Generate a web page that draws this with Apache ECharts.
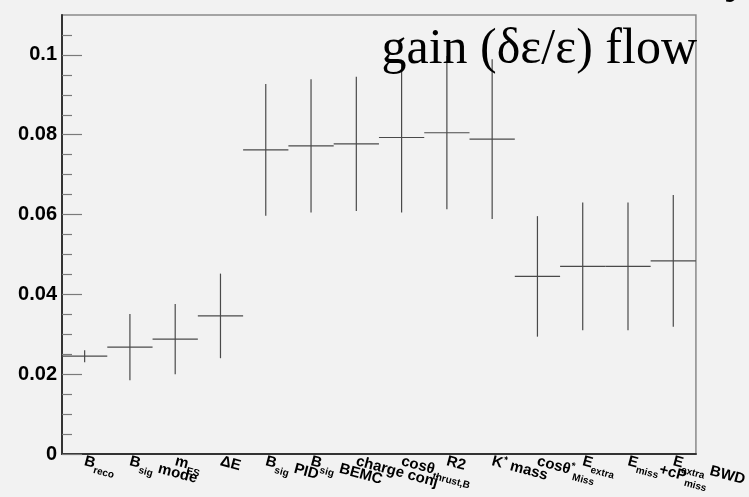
<!DOCTYPE html>
<html>
<head>
<meta charset="utf-8">
<script src="https://cdn.jsdelivr.net/npm/echarts@6/dist/echarts.min.js"></script>
<style>
html,body{margin:0;padding:0;background:#f2f2f2;}
#c{width:749px;height:497px;}
</style>
</head>
<body>
<div id="c"></div>
<script>
var categories = [
  'B{s|reco}', 'B{s|sig} mode', 'm{s|ES}', 'ΔE', 'B{s|sig} PID', 'B{s|sig} BEMC',
  'charge conj', 'cosθ{s|thrust,B}', 'R2', 'K{sup|*} mass', 'cosθ{sup|*}{s|Miss}',
  'E{s|extra}', 'E{s|miss}+cP{s|miss}', 'E{s|extra} BWD'
];
var values = [0.0245, 0.0268, 0.0288, 0.0346, 0.0762, 0.0772, 0.0777, 0.0793, 0.0805, 0.0789, 0.0445, 0.0470, 0.0470, 0.0484];
var errors = [0.0015, 0.0083, 0.0088, 0.0106, 0.0165, 0.0167, 0.0168, 0.0188, 0.0192, 0.0200, 0.0151, 0.0160, 0.0160, 0.0165];
var majorTicks = [0, 0.02, 0.04, 0.06, 0.08, 0.1];
var minorTicks = [0.005, 0.01, 0.015, 0.025, 0.03, 0.035, 0.045, 0.05, 0.055, 0.065, 0.07, 0.075, 0.085, 0.09, 0.095, 0.105];
var yMax = 0.11;

var chart = echarts.init(document.getElementById('c'));
var seriesData = values.map(function (v, i) { return [i, v, errors[i]]; });

chart.setOption({
  backgroundColor: '#f2f2f2',
  animation: false,
  title: {
    text: 'gain (δε/ε) flow',
    right: 47,
    top: 20,
    textStyle: { fontFamily: 'Liberation Serif', fontSize: 50, fontWeight: 'normal', color: '#000' }
  },
  graphic: [{
    type: 'text',
    x: 725,
    y: -47,
    style: { text: 'y', font: '50px "Liberation Serif"', fill: '#000', verticalAlign: 'top' }
  }],
  grid: { left: 62, right: 39, top: 15, bottom: 43, show: true, borderColor: '#8a8a8a', borderWidth: 1.5, backgroundColor: 'transparent' },
  xAxis: {
    type: 'category',
    data: categories,
    boundaryGap: true,
    axisLine: { lineStyle: { color: '#333', width: 2 } },
    axisTick: { inside: true, length: 12, lineStyle: { color: '#7a7a7a', width: 1.2 } },
    axisLabel: {
      interval: 0,
      rotate: -15,
      margin: 7,
      fontFamily: 'Liberation Sans',
      fontWeight: 'bold',
      fontSize: 15,
      color: '#000',
      rich: {
        s: { fontFamily: 'Liberation Sans', fontWeight: 'bold', fontSize: 10, padding: [13, 0, 0, 0], color: '#000' },
        sup: { fontFamily: 'Liberation Sans', fontWeight: 'bold', fontSize: 10, padding: [0, 0, 8, 0], color: '#000' }
      }
    },
    splitLine: { show: false }
  },
  yAxis: [{
    type: 'value',
    min: 0,
    max: yMax,
    axisLine: { show: true, lineStyle: { color: '#333', width: 2 } },
    axisTick: { show: true, inside: true, length: 20, customValues: majorTicks, lineStyle: { color: '#7a7a7a', width: 1.2 } },
    axisLabel: {
      customValues: majorTicks,
      margin: 5,
      fontFamily: 'Liberation Sans',
      fontWeight: 'bold',
      fontSize: 20,
      color: '#000',
      formatter: function (v) { return String(Math.round(v * 1000) / 1000); }
    },
    splitLine: { show: false }
  }, {
    type: 'value',
    min: 0,
    max: yMax,
    position: 'left',
    axisLine: { show: false },
    axisTick: { show: true, inside: true, length: 10, customValues: minorTicks, lineStyle: { color: '#7a7a7a', width: 1.2 } },
    axisLabel: { show: false },
    splitLine: { show: false }
  }],
  series: [{
    type: 'custom',
    yAxisIndex: 0,
    data: seriesData,
    renderItem: function (params, api) {
      var i = api.value(0), v = api.value(1), e = api.value(2);
      var c = api.coord([i, v]);
      var w = api.size([1, 0])[0];
      var top = api.coord([i, v + e]);
      var bot = api.coord([i, v - e]);
      var st = { stroke: '#4a4a4a', lineWidth: 1.2 };
      return {
        type: 'group',
        children: [
          { type: 'line', shape: { x1: c[0] - w / 2, y1: c[1], x2: c[0] + w / 2, y2: c[1] }, style: st },
          { type: 'line', shape: { x1: c[0], y1: top[1], x2: c[0], y2: bot[1] }, style: st }
        ]
      };
    }
  }]
});
</script>
</body>
</html>
